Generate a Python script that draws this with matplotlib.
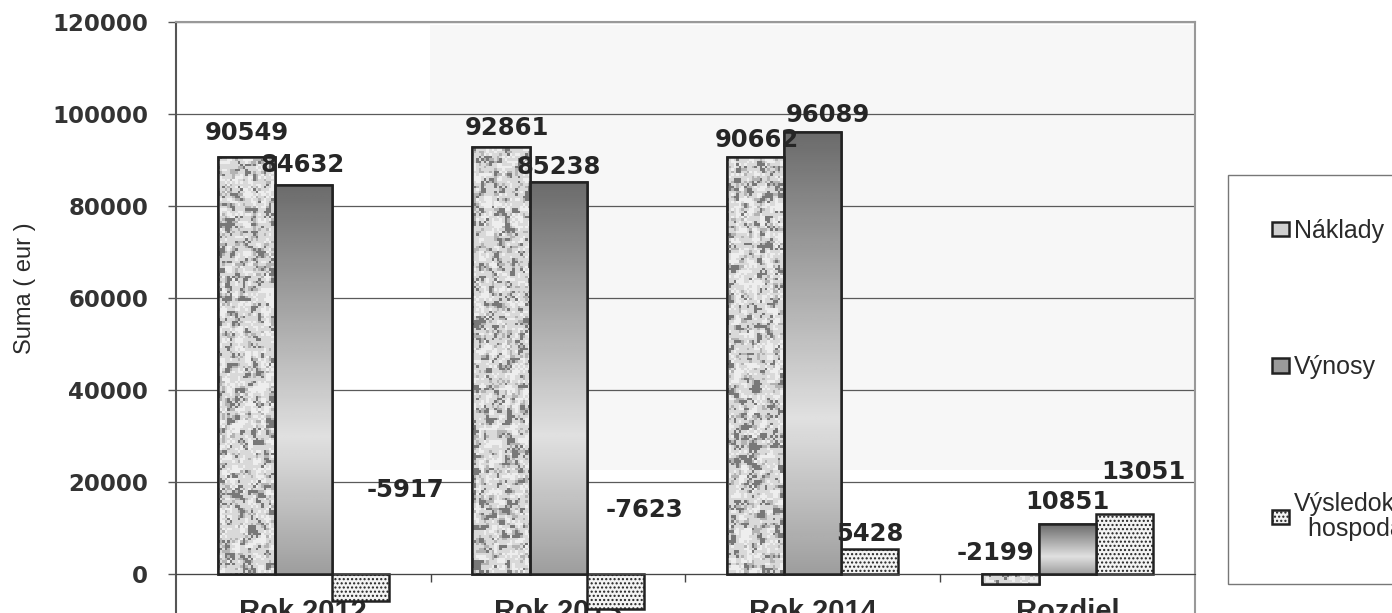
import numpy as np
import matplotlib
matplotlib.use("Agg")
import matplotlib.pyplot as plt
from matplotlib.patches import Rectangle

# data
categories = ["Rok 2012", "Rok 2013", "Rok 2014", "Rozdiel"]
naklady = [90549, 92861, 90662, -2199]
vynosy = [84632, 85238, 96089, 10851]
vysledok = [-5917, -7623, 5428, 13051]
series_names = ["Náklady", "Výnosy", "Výsledok\n  hospodárenia"]
yticks = [0, 20000, 40000, 60000, 80000, 100000, 120000]

# label offsets in pixels (dx, dy) from top of each bar
lab_off = [
    [(1, 24), (6, 19), (1, 17), (-15, 21)],
    [(-1, 20), (1, 15), (15, 17), (0, 22)],
    [(45, 84), (29, 64), (0, 15), (19, 42)],
]

fig = plt.figure(figsize=(13.92, 6.13), dpi=100)
ax = fig.add_axes([0.1264, -0.0114, 0.732, 0.9755])
ax.set_xlim(-0.5, 3.5)
ax.set_ylim(-10000, 120000)

# faint scan tint
ax.add_patch(Rectangle((0.249, 0.25), 0.751, 0.745, transform=ax.transAxes,
                       facecolor="#f7f7f7", edgecolor="none", zorder=0))

x = np.arange(len(categories))
w = 0.224
ec = "#222222"

b1 = ax.bar(x - w, naklady, w, color="#cfcfcf", edgecolor=ec, linewidth=1.8, zorder=2)
b2 = ax.bar(x, vynosy, w, color="#9a9a9a", edgecolor=ec, linewidth=1.8, zorder=2)
b3 = ax.bar(x + w, vysledok, w, color="#f3f3f3", edgecolor=ec, linewidth=1.8,
            hatch="....", zorder=2)

# granite texture for naklady
h, wd = 240, 400
i, j = np.mgrid[0:h, 0:wd]
v = np.sin(i * 12.9898 + j * 78.233) * 43758.5453
n = v - np.floor(v)
n = (n + np.roll(n, 1, 0) + np.roll(n, 1, 1) + np.roll(n, -1, 0) + np.roll(n, -1, 1)) / 5
tex = np.full(n.shape, 0.85)
tex[n < 0.43] = 0.70
tex[n < 0.37] = 0.47
tex[n > 0.6] = 0.93
x0, x1 = ax.get_xlim()
y0, y1 = ax.get_ylim()
for p in b1:
    im = ax.imshow(tex, cmap="gray", vmin=0, vmax=1, extent=(x0, x1, y0, y1),
                   aspect="auto", interpolation="nearest", zorder=2.5)
    im.set_clip_path(p)

# gradient for vynosy
t = np.linspace(0, 1, 200)
grad = np.interp(t, [0, 0.65, 1], [0.42, 0.88, 0.62])[:, None]
for p in b2:
    bx, by = p.get_x(), p.get_y()
    bw, bh = p.get_width(), p.get_height()
    im = ax.imshow(grad, cmap="gray", vmin=0, vmax=1,
                   extent=(bx, bx + bw, by, by + bh), aspect="auto",
                   interpolation="bilinear", zorder=2.5)
    im.set_clip_path(p)

ax.set_xlim(x0, x1)
ax.set_ylim(y0, y1)

# outlines on top
for vals, dx in [(naklady, -w), (vynosy, 0)]:
    ax.bar(x + dx, vals, w, fill=False, edgecolor=ec, linewidth=1.8, zorder=3)

# value labels
for k, vals in enumerate([naklady, vynosy, vysledok]):
    for c, val in enumerate(vals):
        xc = x[c] + (k - 1) * w
        ax.annotate(str(val), (xc, max(val, 0)), xytext=lab_off[k][c],
                    textcoords="offset pixels", ha="center", va="center",
                    fontsize=17.5, fontweight="bold", color="#262626",
                    family="DejaVu Sans", zorder=5)

# grid and spines
ax.set_yticks(yticks)
ax.set_yticklabels([str(t) for t in yticks])
ax.yaxis.grid(True, color="#5a5a5a", linewidth=0.9)
ax.set_axisbelow(True)
ax.tick_params(axis="y", direction="out", length=6, width=1, color="#555555",
               pad=14, labelsize=16.5, labelcolor="#333333")
for lab in ax.get_yticklabels():
    lab.set_fontweight("bold")
    lab.set_family("DejaVu Sans")

ax.spines["bottom"].set_position(("data", 0))
ax.spines["bottom"].set_color("#444444")
ax.spines["left"].set_color("#555555")
ax.spines["left"].set_linewidth(1.5)
ax.spines["top"].set_color("#999999")
ax.spines["top"].set_linewidth(1.5)
ax.spines["right"].set_color("#999999")
ax.spines["right"].set_linewidth(1.5)

ax.set_xticks(x)
ax.set_xticklabels(categories)
ax.set_xticks([0.5, 1.5, 2.5], minor=True)
ax.tick_params(axis="x", which="major", length=0, pad=17, labelsize=21,
               labelcolor="#2a2a2a")
ax.tick_params(axis="x", which="minor", length=6, width=1, color="#444444")
for lab in ax.get_xticklabels():
    lab.set_fontweight("bold")
    lab.set_family(["Liberation Sans", "DejaVu Sans"])

fig.text(25 / 1392, 1 - 288 / 613, "Suma ( eur )", rotation=90, ha="center",
         va="center", fontsize=17, color="#2a2a2a",
         family=["Liberation Sans Narrow", "Liberation Sans", "DejaVu Sans"])

leg = fig.legend([b1, b2, b3], series_names, loc="upper left",
                 bbox_to_anchor=(1228 / 1392, 1 - 175 / 613), borderaxespad=0,
                 frameon=True, fancybox=False, edgecolor="#555555",
                 prop={"family": ["Liberation Sans", "DejaVu Sans"], "size": 18},
                 handlelength=0.68, handleheight=0.52, handletextpad=0.2,
                 labelspacing=4.5, borderpad=1.75)
leg.get_frame().set_linewidth(1.0)
for txt in leg.get_texts():
    txt.set_color("#2a2a2a")
    txt.set_linespacing(1.05)

fig.savefig("out.png", dpi=100)
